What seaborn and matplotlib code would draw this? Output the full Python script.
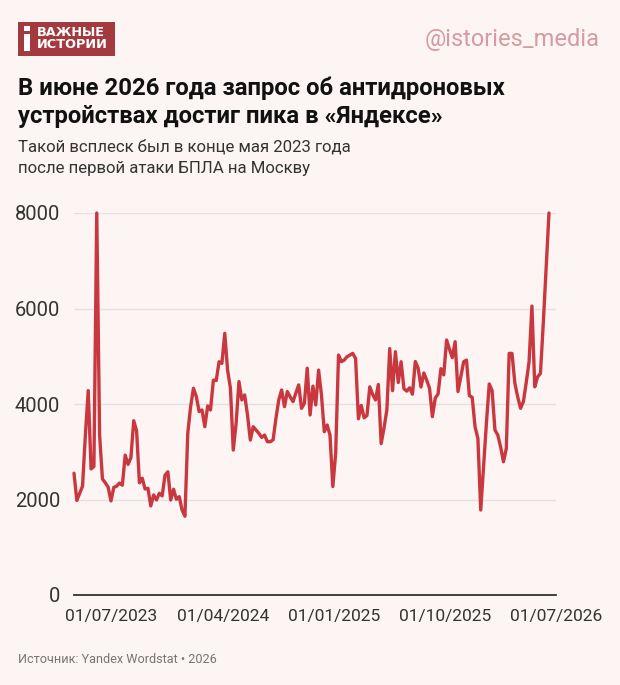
import matplotlib

matplotlib.use("Agg")

import matplotlib.patches as patches
import matplotlib.pyplot as plt
import pandas as pd
import seaborn as sns

# weekly Yandex Wordstat counts
start_date = "2023-04-01"
requests = [
    2550, 1980, 2130, 2280, 3350, 4280, 2640, 2690, 8000, 3350,
    2430, 2350, 2260, 1970, 2255, 2280, 2345, 2300, 2930, 2735,
    2875, 3650, 3440, 2350, 2445, 2220, 2235, 1865, 2095, 1990,
    2130, 2075, 2510, 2580, 1990, 2215, 2005, 2060, 1780, 1650,
    3385, 3945, 4330, 4155, 3840, 3875, 3525, 3960, 3875, 4500,
    4490, 4885, 4850, 5480, 4710, 4330, 3035, 3595, 4470, 4085,
    4190, 3770, 3245, 3525, 3455, 3385, 3300, 3350, 3210, 3210,
    3250, 3700, 4085, 4295, 3945, 4260, 4150, 4050, 4230, 4400,
    3910, 4015, 4750, 3770, 4375, 3980, 4710, 4190, 3420, 3560,
    3350, 2270, 2965, 5025, 4885, 4920, 4990, 5025, 5060, 4955,
    3690, 3970, 3710, 3760, 4360, 4200, 4085, 4410, 3170, 3500,
    3875, 5160, 4280, 5095, 4450, 4885, 4320, 4270, 4340, 4205,
    4890, 4750, 4355, 4650, 4500, 4330, 3735, 4120, 4210, 4740,
    4610, 5340, 5150, 4970, 5305, 4260, 4570, 4885, 4920, 4175,
    4140, 3525, 3280, 1780, 2700, 3600, 4420, 4280, 3455, 3350,
    3100, 2790, 3070, 5060, 5060, 4435, 4150, 3910, 4050, 4450,
    4885, 6050, 4360, 4570, 4640, 5700, 6850, 8000,
]
y_ticks = [0, 2000, 4000, 6000, 8000]
labelled_quarters = ["2023-07-01", "2024-04-01", "2025-01-01", "2025-10-01", "2026-07-01"]

title_lines = ["В июне 2026 года запрос об антидроновых",
               "устройствах достиг пика в «Яндексе»"]
subtitle_lines = ["Такой всплеск был в конце мая 2023 года",
                  "после первой атаки БПЛА на Москву"]
source = "Источник: Yandex Wordstat • 2026"
handle = "@istories_media"
logo_lines = ["ВАЖНЫЕ", "ИСТОРИИ"]

BG = "#fdf4f4"
RED = "#c9383e"
LOGO = "#a23a3e"

df = pd.DataFrame({
    "date": pd.date_range(start_date, periods=len(requests), freq="7D"),
    "requests": requests,
})

sns.set_style("white")
plt.rcParams["font.family"] = ["Roboto", "DejaVu Sans"]

W, H = 620, 685
fig = plt.figure(figsize=(W / 100, H / 100), dpi=100, facecolor=BG)


def fx(px):
    return px / W


def fy(px):
    return 1 - px / H


def box(x0, y0, x1, y1, color):
    # rectangle given in pixel coords (top-left origin)
    fig.patches.append(patches.Rectangle((fx(x0), fy(y1)), fx(x1) - fx(x0), fy(y0) - fy(y1),
                                         transform=fig.transFigure, facecolor=color,
                                         edgecolor="none"))


ax = fig.add_axes([fx(74), fy(595), fx(556.3) - fx(74), fy(213) - fy(595)])
ax.set_facecolor(BG)

sns.lineplot(data=df, x="date", y="requests", ax=ax, color=RED,
             linewidth=2.4, clip_on=False, zorder=3)

ax.set_xlim(pd.Timestamp("2023-04-01"), pd.Timestamp("2026-07-01"))
ax.set_ylim(0, 8000)
ax.set_yticks(y_ticks)
ax.set_yticklabels([str(v) for v in y_ticks])

quarters = pd.date_range("2023-04-01", "2026-07-01", freq="QS")
ax.set_xticks(quarters)
labels = set(pd.to_datetime(labelled_quarters))
ax.set_xticklabels([d.strftime("%d/%m/%Y") if d in labels else "" for d in quarters])

ax.grid(axis="y", color="#e6e0e0", linewidth=1)
ax.grid(axis="x", visible=False)
for side in ["left", "right", "top"]:
    ax.spines[side].set_visible(False)
ax.spines["bottom"].set_color("#333333")
ax.spines["bottom"].set_linewidth(1.3)
ax.spines["bottom"].set_zorder(4)

ax.tick_params(axis="x", length=6, width=1.3, color="#333333", pad=4,
               labelsize=12.5, labelcolor="#333333")
ax.tick_params(axis="y", length=0, pad=10, labelsize=14.5, labelcolor="#333333")
ax.set_xlabel("")
ax.set_ylabel("")

# logo block
box(18, 22, 115, 56, LOGO)
box(24, 26, 30, 31, "white")
box(24, 34, 30, 51, "white")
fig.text(fx(37), fy(36.5), logo_lines[0], color="white", fontsize=9.3, fontweight="bold",
         va="baseline", family="DejaVu Sans")
fig.text(fx(37), fy(48), logo_lines[1], color="white", fontsize=9.3, fontweight="bold",
         va="baseline", family="DejaVu Sans")

fig.text(fx(600), fy(46), handle, color="#d59ca0", fontsize=17, ha="right", va="baseline")

fig.text(fx(18), fy(94.5), title_lines[0], fontsize=17.2, fontweight="bold", color="#111111", va="baseline")
fig.text(fx(18), fy(123), title_lines[1], fontsize=17.2, fontweight="bold", color="#111111", va="baseline")
fig.text(fx(18), fy(152), subtitle_lines[0], fontsize=12.1, color="#333333", va="baseline")
fig.text(fx(18), fy(173), subtitle_lines[1], fontsize=12.1, color="#333333", va="baseline")

fig.text(fx(18), fy(663), source, fontsize=9.1, color="#7a7474", va="baseline")

fig.savefig("out.png", dpi=100, facecolor=BG)
